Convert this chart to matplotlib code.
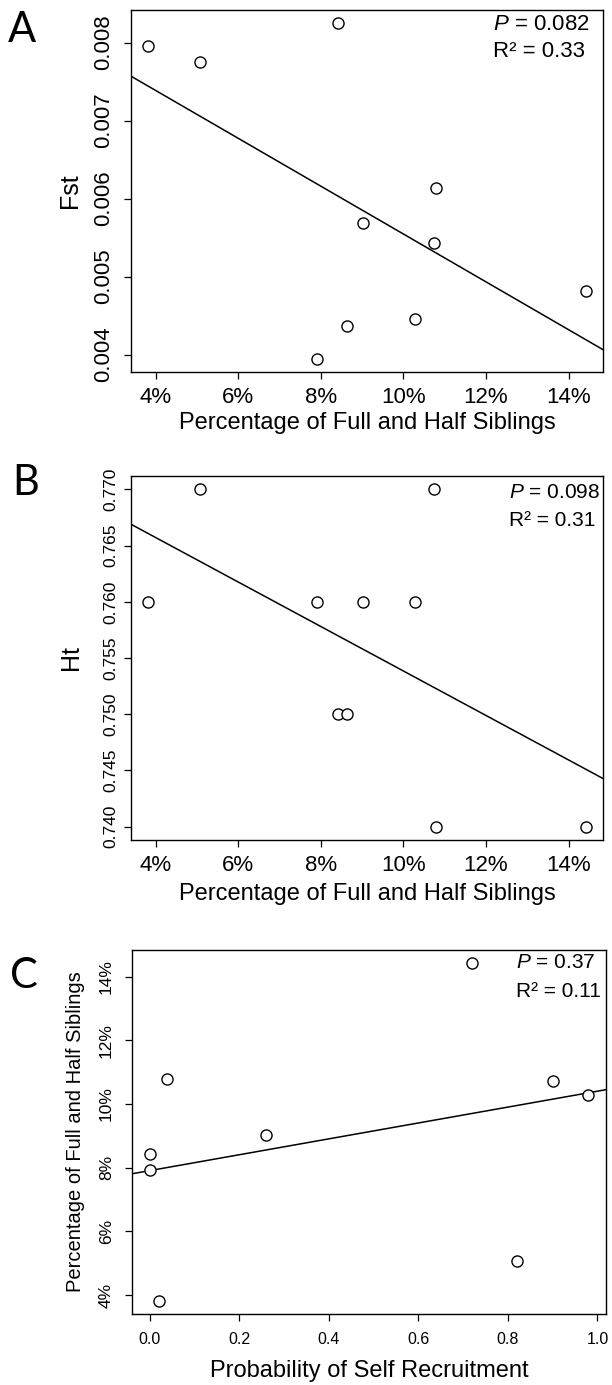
import numpy as np
import matplotlib
matplotlib.use("Agg")
from matplotlib import pyplot as plt
from matplotlib.ticker import FuncFormatter

plt.rcParams['font.family'] = ['Liberation Sans', 'DejaVu Sans']
plt.rcParams['mathtext.fontset'] = 'custom'
plt.rcParams['mathtext.it'] = 'Liberation Sans:italic'
plt.rcParams['mathtext.rm'] = 'Liberation Sans'

# data (one entry per population)
sibs = [3.83, 5.08, 8.415, 10.79, 9.03, 10.73, 14.41, 10.28, 8.64, 7.92]
fst = [0.007962, 0.007753, 0.008247, 0.006141, 0.005684, 0.005433, 0.004810, 0.004456, 0.004371, 0.003949]
ht = [0.760, 0.770, 0.750, 0.740, 0.760, 0.770, 0.740, 0.760, 0.750, 0.760]
self_rec = [0.02, 0.82, 0.0, 0.04, 0.26, 0.90, 0.72, 0.98, np.nan, 0.0]

stats_a = ["0.082", "0.33"]
stats_b = ["0.098", "0.31"]
stats_c = ["0.37", "0.11"]

W, H = 612, 1385
fig = plt.figure(figsize=(W / 100, H / 100), dpi=100)


def box(l, r, t, b):
    return [l / W, 1 - b / H, (r - l) / W, (b - t) / H]


def panel(ax, x, y, xticks, yticks, xfmt, yfmt, xs, ys, xpad, ypad):
    x = np.asarray(x, float)
    y = np.asarray(y, float)
    ok = ~np.isnan(x) & ~np.isnan(y)
    x, y = x[ok], y[ok]
    ax.margins(0.04)
    ax.plot(x, y, 'o', ms=8, mfc='white', mec='black', mew=1.0, zorder=3)
    # fix the R-like limits before the fitted line goes in
    ax.set_xlim(ax.get_xlim())
    ax.set_ylim(ax.get_ylim())
    m, b = np.polyfit(x, y, 1)
    xl = np.array(ax.get_xlim())
    ax.plot(xl, m * xl + b, color='black', lw=1.1)
    ax.set_xticks(xticks)
    ax.set_yticks(yticks)
    ax.xaxis.set_major_formatter(FuncFormatter(xfmt))
    ax.yaxis.set_major_formatter(FuncFormatter(yfmt))
    ax.tick_params(axis='x', labelsize=xs, length=5, width=0.9, pad=xpad)
    ax.tick_params(axis='y', labelsize=ys, length=5, width=0.9, pad=ypad, labelrotation=90)
    for lab in ax.get_yticklabels():
        lab.set_va('center')
    for s in ax.spines.values():
        s.set_linewidth(1.0)


def stats(ax, xf, y1, y2, p, r2, size):
    ax.text(xf, y1, r"$\mathit{P}$ = " + p, transform=ax.transAxes, ha='left', va='center',
            fontsize=size)
    ax.text(xf, y2, "R² = " + r2, transform=ax.transAxes, ha='left', va='center',
            fontsize=size)


pct = lambda v, pos: f"{v:.0f}%"

# A
ax1 = fig.add_axes(box(131, 603, 10, 372))
panel(ax1, sibs, fst, [4, 6, 8, 10, 12, 14], [0.004, 0.005, 0.006, 0.007, 0.008],
      pct, lambda v, pos: f"{v:.3f}", 16, 16, 6, 7)
ax1.set_xlabel("Percentage of Full and Half Siblings", fontsize=17)
ax1.set_ylabel("Fst", fontsize=18)
ax1.xaxis.set_label_coords(0.5, -0.141)
ax1.xaxis.label.set_va('center')
ax1.yaxis.set_label_coords(-0.129, 0.5)
ax1.yaxis.label.set_va('center')
stats(ax1, 0.767, 0.961, 0.884, stats_a[0], stats_a[1], 16)

# B
ax2 = fig.add_axes(box(131, 603, 476, 840))
panel(ax2, sibs, ht, [4, 6, 8, 10, 12, 14], [0.740, 0.745, 0.750, 0.755, 0.760, 0.765, 0.770],
      pct, lambda v, pos: f"{v:.3f}", 16, 12.5, 6, 4)
ax2.set_xlabel("Percentage of Full and Half Siblings", fontsize=17)
ax2.set_ylabel("Ht", fontsize=18)
ax2.xaxis.set_label_coords(0.5, -0.148)
ax2.xaxis.label.set_va('center')
ax2.yaxis.set_label_coords(-0.127, 0.5)
ax2.yaxis.label.set_va('center')
stats(ax2, 0.80, 0.956, 0.879, stats_b[0], stats_b[1], 15)

# C
ax3 = fig.add_axes(box(132, 606, 950, 1314))
panel(ax3, self_rec, sibs, [0.0, 0.2, 0.4, 0.6, 0.8, 1.0], [4, 6, 8, 10, 12, 14],
      lambda v, pos: f"{v:.1f}", pct, 11.5, 12.5, 8, 8)
ax3.set_xlabel("Probability of Self Recruitment", fontsize=17)
ax3.set_ylabel("Percentage of Full and Half Siblings", fontsize=14.5)
ax3.xaxis.set_label_coords(0.5, -0.157)
ax3.xaxis.label.set_va('center')
ax3.yaxis.set_label_coords(-0.120, 0.5)
ax3.yaxis.label.set_va('center')
stats(ax3, 0.81, 0.967, 0.887, stats_c[0], stats_c[1], 15)

# panel letters
for letter, base, x in [("A", 42, 8), ("B", 495, 12), ("C", 988, 10)]:
    fig.text(x / W, 1 - base / H, letter, fontsize=30, family='Lato', ha='left', va='baseline')

fig.savefig("out.png", dpi=100)
